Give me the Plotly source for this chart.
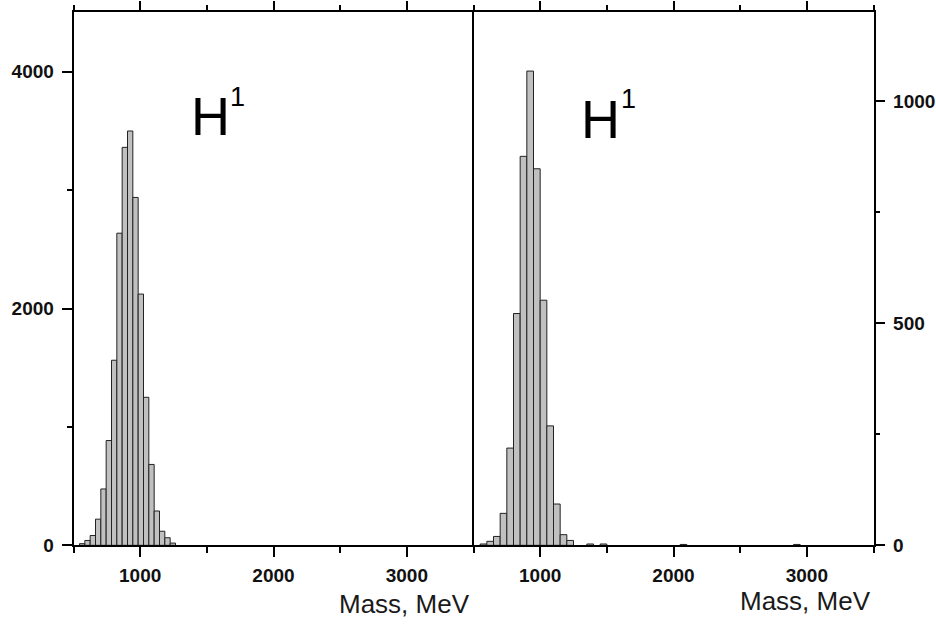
import plotly.graph_objects as go

# Left panel histogram (bin width 40 MeV)
left_centers = [565, 605, 645, 685, 725, 765, 805, 845, 885, 925, 965, 1005,
                1045, 1085, 1125, 1165, 1205, 1245]
left_counts = [14, 41, 83, 221, 476, 885, 1563, 2636, 3361, 3499, 2938, 2122,
               1250, 683, 290, 119, 64, 19]
left_width = 40

# Right panel histogram (bin width 50 MeV)
right_centers = [575, 625, 675, 725, 775, 825, 875, 925, 975, 1025, 1075, 1125,
                 1175, 1225, 1375, 1475, 2075, 2925]
right_counts = [3, 9, 20, 72, 219, 522, 876, 1068, 848, 552, 269, 93,
                24, 11, 3, 3, 2, 2]
right_width = 50

x_range = [500, 3500]
left_y_range = [0, 4500]
right_y_range = [0, 1200]
x_label = "Mass, MeV"

W, H = 936, 631
def px(x):
    return x / W
def py(y):
    return (H - y) / H

bar_fill = "#c0c0c0"
bar_edge = "#222222"

fig = go.Figure()
fig.add_trace(go.Bar(x=left_centers, y=left_counts, width=left_width,
                     marker=dict(color=bar_fill, line=dict(color=bar_edge, width=1)),
                     xaxis="x", yaxis="y", showlegend=False))
fig.add_trace(go.Bar(x=right_centers, y=right_counts, width=right_width,
                     marker=dict(color=bar_fill, line=dict(color=bar_edge, width=1)),
                     xaxis="x2", yaxis="y2", showlegend=False))

tickfont = dict(family="Liberation Sans, Arial", size=19, color="#111111", weight="bold")
line_w = 1.6

def xaxis_style(domain, anchor):
    return dict(domain=domain, anchor=anchor, range=x_range, tickmode="linear",
                tick0=0, dtick=1000, ticks="outside", ticklen=10, tickwidth=line_w,
                tickcolor="black", showline=True, linecolor="black", linewidth=line_w,
                mirror="ticks", showgrid=False, zeroline=False, tickfont=tickfont,
                ticklabelstandoff=2,
                minor=dict(tick0=0, dtick=500, ticks="outside", ticklen=6,
                           tickwidth=line_w, tickcolor="black", showgrid=False))

def yaxis_style(domain, anchor, rng, dtick, mdtick, side, mirror):
    return dict(domain=domain, anchor=anchor, range=rng, tickmode="linear",
                tick0=0, dtick=dtick, ticks="outside", ticklen=10, tickwidth=line_w,
                tickcolor="black", showline=True, linecolor="black", linewidth=line_w,
                mirror=mirror, showgrid=False, zeroline=False, tickfont=tickfont,
                side=side, ticklabelstandoff=4,
                minor=dict(tick0=0, dtick=mdtick, ticks="outside", ticklen=5,
                           tickwidth=line_w, tickcolor="black", showgrid=False))

ydom = [py(555), py(12.7)]
fig.update_layout(
    width=W, height=H, margin=dict(l=0, r=0, t=0, b=0),
    paper_bgcolor="white", plot_bgcolor="white",
    xaxis=xaxis_style([px(73.5), px(473.5)], "y"),
    xaxis2=xaxis_style([px(473.5), px(873.5)], "y2"),
    yaxis=yaxis_style(ydom, "x", left_y_range, 2000, 1000, "left", False),
    yaxis2=yaxis_style(ydom, "x2", right_y_range, 500, 250, "right", True),
)

label_font = dict(family="Liberation Sans, Arial", size=26, color="#1a1a1a")
fig.add_annotation(text=x_label, xref="paper", yref="paper", x=px(472), y=py(615),
                   xanchor="right", yanchor="middle", showarrow=False, font=label_font)
fig.add_annotation(text=x_label, xref="paper", yref="paper", x=px(873), y=py(612),
                   xanchor="right", yanchor="middle", showarrow=False, font=label_font)

big = dict(family="Liberation Sans, Arial", size=54, color="black")
small = dict(family="Liberation Sans, Arial", size=27, color="black")
for hx, hy, sx, sy in [(210, 118.5, 237, 98.5), (600, 121, 628, 100.5)]:
    fig.add_annotation(text="H", xref="paper", yref="paper", x=px(hx), y=py(hy),
                       xanchor="center", yanchor="middle", showarrow=False, font=big)
    fig.add_annotation(text="1", xref="paper", yref="paper", x=px(sx), y=py(sy),
                       xanchor="center", yanchor="middle", showarrow=False, font=small)

fig.write_html("out.html")
